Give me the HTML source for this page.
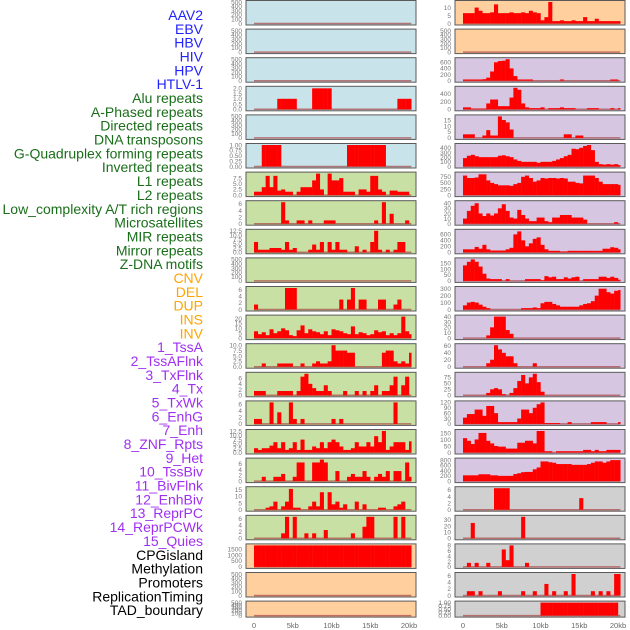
<!DOCTYPE html>
<html><head><meta charset="utf-8"><style>
html,body{margin:0;padding:0;background:#fff;}
svg{display:block;font-family:"Liberation Sans",sans-serif;}
</style></head><body>
<svg id="chart" width="630" height="630" viewBox="0 0 630 630" xmlns="http://www.w3.org/2000/svg">
<g id="labels"></g>
<g id="panels"></g>
<g id="xaxes"></g>
</svg>
<script>
const labelNames = ["AAV2","EBV","HBV","HIV","HPV","HTLV-1","Alu repeats","A-Phased repeats","Directed repeats","DNA transposons","G-Quadruplex forming repeats","Inverted repeats","L1 repeats","L2 repeats","Low_complexity A/T rich regions","Microsatellites","MIR repeats","Mirror repeats","Z-DNA motifs","CNV","DEL","DUP","INS","INV","1_TssA","2_TssAFlnk","3_TxFlnk","4_Tx","5_TxWk","6_EnhG","7_Enh","8_ZNF_Rpts","9_Het","10_TssBiv","11_BivFlnk","12_EnhBiv","13_ReprPC","14_ReprPCWk","15_Quies","CPGisland","Methylation","Promoters","ReplicationTiming","TAD_boundary"];
const labelGroupCounts = [6,13,5,15,5];
const labelGroupColors = ["#2222ff","#1a6e1a","#ffa500","#a030f0","#000000"];
const xTickValues = [0,5,10,15,20];
const xTickLabels = ["0","5kb","10kb","15kb","20kb"];

const L0=[0,0,0,0,0,0,0,0,0,0,0,0,0,0,0,0,0,0,0,0,0,0,0,0,0,0,0,0,0,0,0,0,0,0,0,0,0,0,0,0,0];
const L3=[0,0,0,0,0,0,1,1,1,1,1,0,0,0,0,2,2,2,2,2,0,0,0,0,0,0,0,0,0,0,0,0,0,0,0,0,0,1,1,1,1];
const L5=[0,0,1,1,1,1,1,0,0,0,0,0,0,0,0,0,0,0,0,0,0,0,0,0,1,1,1,1,1,1,1,1,1,1,0,0,0,0,0,0,0];
const L6=[1.5,1.5,3.5,8.5,3.5,8.5,2,2.5,1.5,1.5,0,1.5,3.5,3.5,3.5,6.5,9.5,2.5,0,9.5,6.5,6.5,7.5,1.5,1.5,1.5,0,2.5,2.5,1.5,8.5,8.5,2.5,1.5,0,2,2,1.5,1.5,1.5,0];
const L7=[0,0,0,0,0,0,0,6.5,1,0,0,1,1,0,1,0,0,0,1,1,1,0,0,0,0,0,0,0,0,0,0,1,0,6.5,0,3,0,0,0,1,0];
const L8=[6,1.5,1.5,1.5,2.5,2.5,2.5,1.5,6,1.5,2.5,0,0,0,1.5,4.5,1.5,6,0,6,1.5,6,1.5,1.5,0,0,3.5,0,1.5,0,6,12.5,1.5,0,1.5,0,1.5,6,6,0,0];
const L10=[1.5,0,0,0,0,0,0,0,6.5,6.5,6.5,0,0,0,0,0,0,0,0,0,0,0,3,0,3,6.5,0,3,3,0,0,0,3,3,0,0,1.5,3,0,0,0];
const L11=[7,4,6,3,9,5,7,10,8,3,2,8,13,5,9,7,6,4,7,3,9,8,7,5,4,12,4,6,5,3,4,8,6,7,3,5,3,5,22,7,4];
const L12=[0,0,1.5,0,0,0,1.5,1.5,1.5,1.5,0,0,1.5,0,0,1.5,2.5,1.5,1.5,2.5,10,7.5,7.5,7.5,6.5,6.5,0,0,0,0,0,0,0,6.5,7.5,7.5,2.5,1.5,2.5,1.5,6.5];
const L13=[1.5,1.5,1.5,0,0,0,1.5,1.5,1.5,1.5,0,1.5,6.5,7.5,4,2.5,1.5,1.5,3.5,1.5,0,0,0,1.5,0,0,1.5,0,1.5,0,1.5,3.5,0,1.5,1.5,3.5,6.5,0,3.5,6.5,0];
const L14=[1.5,1.5,0,0,6.5,0,3.5,0,0,6.5,1.5,0,1.5,0,0,0,0,0,0,0,1.5,0,1.5,0,0,0,0,0,0,0,0,0,0,0,0,0,6.5,0,0,0,0];
const L15=[2.5,1.5,2.5,2.5,4,6,2.5,6,1.5,2.5,6,1.5,7.5,1.5,1.5,3.5,2.5,6,2.5,6,7.5,6,3.5,1.5,1.5,2.5,6,3.5,3.5,6,3.5,9.5,6,12.5,1.5,3.5,6,6,6,1.5,6.5];
const L16=[0,0,1.5,0,0,1.5,1.5,2.5,0,0,1.5,6.5,6.5,0,0,6.5,6.5,7.5,6.5,0,0,3.5,0,0,1.5,2.5,1.5,1.5,3.5,1.5,0,1.5,2.5,1.5,3.5,0,3.5,3.5,0,6.5,1.5];
const L17=[0,0,0,1.5,2.5,6,0,2.5,6,15.5,1.5,1.5,0,0,2.5,6,2.5,13,0,13,4,6,1.5,4,0,0,6,0,4,0,0,0,1.5,1.5,0,0,2.5,4,6,0,0];
const L18=[0,0,0,0,0,0,0,1.5,6.5,0,6.5,0,0,1.5,0,1.5,0,0,2.5,0,0,0,0,0,0,1.5,0,0,3.5,6.5,6.5,0,0,0,0,0,6.5,0,6.5,0,0];
const L19=[1800,1800,1800,1800,1800,1800,1800,1800,1800,1800,1800,1800,1800,1800,1800,1800,1800,1800,1800,1800,1800,1800,1800,1800,1800,1800,1800,1800,1800,1800,1800,1800,1800,1800,1800,1800,1800,1800,1800,1800,1800];

const R0=[6.5,6.5,6.5,10,8,6.5,6.5,7,12,6.5,6.5,6.5,7,6.5,6.5,7,6.5,8,7,6.5,2,4,13.5,1.5,1.5,2,1.5,1.5,2,1.5,1.5,4,1.5,1.5,3,1.5,1.5,1.5,1.5,1.5,1.5];
const R2=[40,40,40,40,40,50,100,300,600,640,650,700,400,150,40,40,40,40,0,0,0,0,0,0,0,40,0,0,0,0,0,0,0,0,0,0,0,0,40,40,0];
const R3=[50,50,20,20,20,20,150,250,250,80,80,80,300,550,500,150,50,30,30,30,50,0,30,30,30,50,30,30,30,0,0,0,30,30,30,0,0,0,30,0,30];
const R4=[3,3,3,0,0,2,6.5,2,2,18,15,13,7,0,0,0,0,0,0,0,0,0,0,0,0,0,3,3,0,2,2,0,0,0,0,0,0,0,0,0,0];
const R5=[180,230,250,220,200,200,200,200,200,230,240,220,200,150,120,100,100,100,100,80,100,100,100,120,150,180,220,250,380,370,400,440,460,350,100,50,40,50,40,50,30];
const R6=[800,700,700,720,850,850,600,500,450,400,400,400,380,450,500,750,800,700,550,600,700,680,700,700,680,700,680,550,550,500,480,800,800,800,700,550,450,450,450,450,420];
const R7=[10,25,35,40,20,15,20,16,20,30,38,25,12,10,27,17,10,5,5,12,12,5,3,12,12,17,17,17,12,12,12,8,0,0,0,0,0,0,0,3,0];
const R8=[100,100,100,180,120,250,100,60,60,60,60,100,150,600,700,400,200,300,450,500,250,100,50,50,50,30,30,50,50,50,50,50,50,50,50,50,120,120,170,150,100];
const R9=[130,160,180,160,120,60,20,15,15,15,0,15,0,0,0,0,15,15,15,15,5,40,30,35,15,15,30,20,30,35,0,15,15,15,15,35,35,25,35,25,10];
const R10=[60,100,110,100,70,40,20,0,0,0,0,0,0,0,0,20,20,20,30,20,90,110,110,80,60,40,40,40,40,40,60,80,90,120,200,300,300,250,230,270,280];
const R11=[0,0,0,0,0,0,5,20,40,40,40,15,8,0,0,0,0,0,0,0,0,0,0,0,0,0,0,0,0,0,0,0,0,0,0,0,0,0,0,0,0];
const R12=[0,0,0,0,0,0,10,20,62,50,40,30,30,10,0,0,0,0,10,0,0,0,0,0,0,0,0,0,0,0,0,0,0,0,0,0,0,0,0,0,0];
const R13=[0,0,0,0,0,0,10,25,30,25,5,0,10,30,60,85,50,75,90,55,15,0,0,0,0,0,0,0,0,0,0,0,0,0,0,0,0,0,0,0,0];
const R14=[35,55,55,80,80,45,100,100,60,10,10,10,10,10,30,80,80,60,90,110,120,5,5,5,5,0,0,10,0,0,0,0,0,10,10,10,10,0,0,0,10];
const R15=[110,90,65,100,150,150,90,70,50,45,45,30,30,30,75,75,90,90,70,165,165,10,10,0,10,10,10,10,10,10,10,20,20,10,20,10,10,20,20,20,20];
const R16=[220,220,220,220,260,260,260,220,220,200,200,200,200,270,300,340,350,350,450,520,750,750,720,700,650,650,650,650,620,620,620,620,650,700,750,750,700,750,800,800,800];
const R17=[0,0,0,0,0,0,0,0,6.5,6.5,6.5,6.5,0,0,0,0,0,0,0,0,0,0,0,0,0,0,0,0,0,0,3.5,0,0,0,0,0,0,0,0,0,0];
const R18=[0,0,25,0,0,0,0,0,0,0,0,0,0,0,0,35,0,0,0,0,0,0,0,0,0,0,0,0,0,0,0,0,0,0,0,0,0,0,0,0,0];
const R19=[0,1.5,0,1.5,0,0,1.5,0,0,0,6.5,2.5,8,0,0,0,1.5,0,0,0,0,0,0,0,0,0,0,0,0,0,0,0,0,0,0,0,0,0,0,0,0];
const R20=[0,1.3,1.3,0,1.3,0,0,0,0,1.3,0,0,0,0,0,1.3,0,0,1.3,0,0,3.5,0,1.3,0,0,1.3,0,6.5,0,0,0,0,1.3,0,1.3,0,1.3,0,6.5,6.5];
const R21=[0,0,0,0,0,0,0,0,0,0,0,0,0,0,0,0,0,0,0,0,1,1,1,1,1,1,1,1,1,1,1,1,1,1,1,1,1,1,1,1,0];

const leftSeries=[L0,L0,L0,L3,L0,L5,L6,L7,L8,L0,L10,L11,L12,L13,L14,L15,L16,L17,L18,L19,L0,L0];
const leftYmax=[500,500,500,2.05,500,1,9.5,6.5,12.5,500,6.5,22,10,7.5,6.5,12.5,7.5,16,6.5,1800,500,500];
const leftTicks=[[0,100,200,300,400,500],[0,100,200,300,400,500],[0,100,200,300,400,500],[0,0.5,1,1.5,2],[0,100,200,300,400,500],[0,0.25,0.5,0.75,1],[0,2.5,5,7.5],[0,2,4,6],[0,2.5,5,7.5,10,12.5],[0,100,200,300,400,500],[0,2,4,6],[0,5,10,15,20],[0,2.5,5,7.5,10],[0,2,4,6],[0,2,4,6],[0,2.5,5,7.5,10,12.5],[0,2,4,6],[0,5,10,15],[0,2,4,6],[0,500,1000,1500],[0,100,200,300,400,500],[0,100,200,300,400,500]];
const leftDigits=[0,0,0,1,0,2,1,0,1,0,0,0,1,0,0,1,0,0,0,0,0,0];
const leftBg=["#c8e3ea","#c8e3ea","#c8e3ea","#c8e3ea","#c8e3ea","#c8e3ea","#c8e0a4","#c8e0a4","#c8e0a4","#c8e0a4","#c8e0a4","#c8e0a4","#c8e0a4","#c8e0a4","#c8e0a4","#c8e0a4","#c8e0a4","#c8e0a4","#c8e0a4","#ffd09e","#ffd09e","#ffd09e"];

const rightSeries=[R0,L0,R2,R3,R4,R5,R6,R7,R8,R9,R10,R11,R12,R13,R14,R15,R16,R17,R18,R19,R20,R21];
const rightYmax=[13.5,500,700,550,18,460,880,42,720,180,310,40,62,90,120,165,820,6.5,35,8,6.5,1];
const rightTicks=[[0,5,10],[0,100,200,300,400,500],[0,200,400,600],[0,200,400],[0,5,10,15],[0,100,200,300,400],[0,250,500,750],[0,10,20,30,40],[0,200,400,600],[0,50,100,150],[0,100,200,300],[0,10,20,30,40],[0,20,40,60],[0,25,50,75],[0,30,60,90,120],[0,50,100,150],[0,200,400,600,800],[0,2,4,6],[0,10,20,30],[0,2,4,6,8],[0,2,4,6],[0,0.25,0.5,0.75,1]];
const rightDigits=[0,0,0,0,0,0,0,0,0,0,0,0,0,0,0,0,0,0,0,0,0,2];
const rightBg=["#ffd09e","#ffd09e","#d6c6e2","#d6c6e2","#d6c6e2","#d6c6e2","#d6c6e2","#d6c6e2","#d6c6e2","#d6c6e2","#d6c6e2","#d6c6e2","#d6c6e2","#d6c6e2","#d6c6e2","#d6c6e2","#d6c6e2","#d0d0d0","#d0d0d0","#d0d0d0","#d0d0d0","#d0d0d0"];

const NS="http://www.w3.org/2000/svg";
function mk(tag, attrs, parent){const e=document.createElementNS(NS,tag);for(const k in attrs)e.setAttribute(k,attrs[k]);parent.appendChild(e);return e;}

// labels
const lg=document.getElementById('labels');
let idx=0;
labelGroupCounts.forEach((c,gi)=>{for(let j=0;j<c;j++){
  const t=mk('text',{x:203,y:20+idx*13.84,'text-anchor':'end','font-size':14,fill:labelGroupColors[gi]},lg);
  
  
  t.textContent=labelNames[idx]; idx++;}});

const BIN=0.5, XEND=20.3, PXKB=7.75;
function rowTop(i){return 0.5+28.6*i;}
function rowH(i){return i===21?16:24.5;}
function xScale(x0,kb){return x0+kb*PXKB;}
function yScale(top,h,ymax,v){return top+h-1.5-(v/ymax)*(h-3);}

const pg=document.getElementById('panels');
function drawPanel(i,px,x0,series,ymax,ticks,digits,bg,side){
  const top=rowTop(i),h=rowH(i);
  const g=mk('g',{},pg);
  
  
  mk('rect',{x:px,y:top,width:170,height:h,fill:bg,stroke:'#5a5a5a','stroke-width':1},g);
  const y0=yScale(top,h,ymax,0);
  const base=mk('line',{x1:xScale(x0,0),x2:xScale(x0,XEND),y1:y0,y2:y0,stroke:'rgba(170,70,70,0.7)','stroke-width':1.5},g);
  
  
  series.forEach((v,b)=>{
    if(v<=0)return;
    const a=b*BIN, e=Math.min((b+1)*BIN,XEND);
    const yv=yScale(top,h,ymax,Math.min(v,ymax));
    const r=mk('rect',{x:xScale(x0,a),y:yv,width:xScale(x0,e)-xScale(x0,a)+0.2,height:y0-yv,fill:'#ff0000'},g);
    
    
  });
  ticks.forEach(t=>{
    const tx=mk('text',{x:px-4,y:yScale(top,h,ymax,t)+2.3,'text-anchor':'end','font-size':6.5,fill:'#777'},g);
    
    
    tx.textContent=t.toFixed(digits);
  });
}
for(let i=0;i<22;i++){
  drawPanel(i,246,254,leftSeries[i],leftYmax[i],leftTicks[i],leftDigits[i],leftBg[i],'left');
  drawPanel(i,455,463,rightSeries[i],rightYmax[i],rightTicks[i],rightDigits[i],rightBg[i],'right');
}
const xg=document.getElementById('xaxes');
[254,463].forEach(x0=>{
  xTickValues.forEach((v,k)=>{
    const t=mk('text',{x:xScale(x0,v),y:628,'text-anchor':'middle','font-size':7.5,fill:'#666'},xg);
    
    
    t.textContent=xTickLabels[k];
  });
});
</script>
</body></html>
